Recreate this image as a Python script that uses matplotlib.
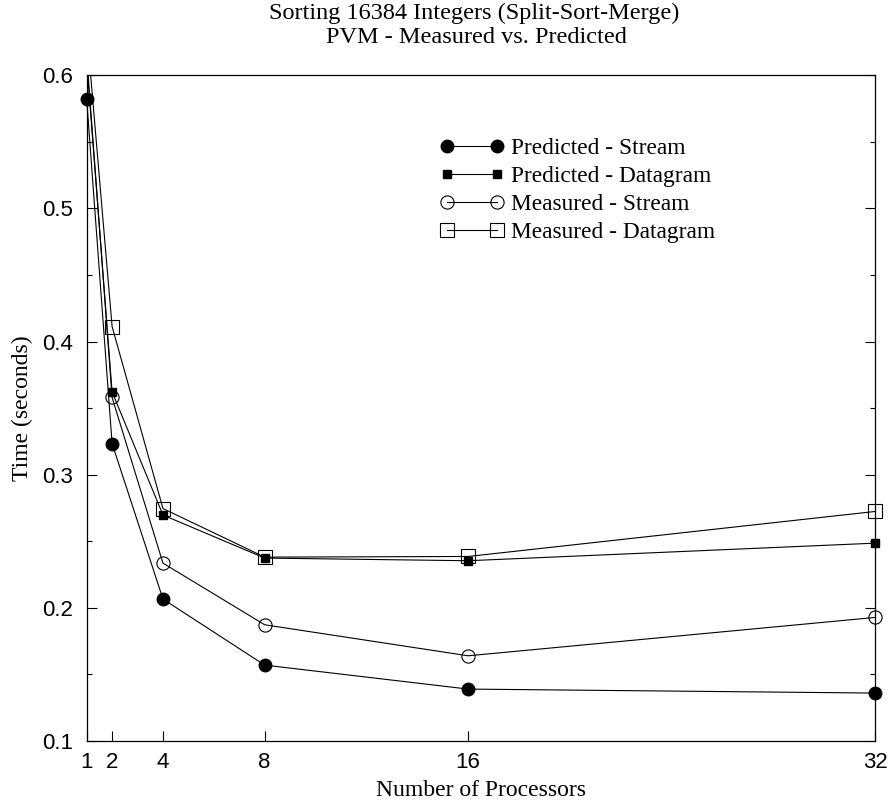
import matplotlib
matplotlib.use("Agg")
import matplotlib.pyplot as plt
from matplotlib.ticker import MultipleLocator
from matplotlib.transforms import Bbox, TransformedBbox

procs = [1, 2, 4, 8, 16, 32]
pred_stream = [0.582, 0.3234, 0.2066, 0.157, 0.139, 0.136]
pred_dgram = [0.61, 0.3622, 0.2697, 0.2374, 0.2354, 0.2486]
meas_stream = [0.615, 0.358, 0.2336, 0.1873, 0.164, 0.1928]
meas_dgram = [0.635, 0.4113, 0.2746, 0.2381, 0.2386, 0.2724]
labels = ["Predicted - Stream", "Predicted - Datagram",
          "Measured - Stream", "Measured - Datagram"]

serif = "Liberation Serif"
sans = "Liberation Sans"

fig = plt.figure(figsize=(8.88, 8.01), dpi=100)
ax = fig.add_axes([0.0976, 0.0749, 0.8878, 0.8311])

lw = 0.8
ax.plot(procs, pred_stream, color="black", lw=lw, marker="o", ms=9,
        mfc="black", mec="black", label=labels[0])
ax.plot(procs, pred_dgram, color="black", lw=lw, marker="s", ms=6,
        mfc="black", mec="black", label=labels[1])
ax.plot(procs, meas_stream, color="black", lw=lw, marker="o", ms=9.5,
        mfc="none", mec="black", mew=0.8, label=labels[2])
ax.plot(procs, meas_dgram, color="black", lw=lw, marker="s", ms=9.5,
        mfc="none", mec="black", mew=0.8, label=labels[3])

# clip only at the top, so edge markers stay whole
clip = TransformedBbox(Bbox([[-0.1, -0.1], [1.1, 1.0]]), ax.transAxes)
for ln in ax.lines:
    ln.set_clip_path(None)
    ln.set_clip_box(clip)

ax.set_xlim(1, 32)
ax.set_ylim(0.1, 0.6)
ax.set_xticks(procs)
ax.set_xticklabels([str(p) for p in procs])
ax.yaxis.set_major_locator(MultipleLocator(0.1))
ax.yaxis.set_minor_locator(MultipleLocator(0.05))
ax.tick_params(axis="y", which="both", direction="in", left=True, right=True)
ax.tick_params(axis="y", which="major", length=7.2, width=0.8, pad=10)
ax.tick_params(axis="y", which="minor", length=3.6, width=0.8)
ax.tick_params(axis="x", which="major", direction="in", length=7.2,
               width=0.8, pad=8, top=False)
for lab in ax.get_xticklabels() + ax.get_yticklabels():
    lab.set_fontfamily(sans)
    lab.set_fontsize(16)
for sp in ax.spines.values():
    sp.set_linewidth(0.9)

ax.set_xlabel("Number of Processors", fontfamily=serif, fontsize=17, labelpad=5)
ax.set_ylabel("Time (seconds)", fontfamily=serif, fontsize=17, labelpad=6)

fig.text(0.534, 0.976, "Sorting 16384 Integers (Split-Sort-Merge)",
         ha="center", va="baseline", fontfamily=serif, fontsize=17.5)
fig.text(0.536, 0.946, "PVM - Measured vs. Predicted",
         ha="center", va="baseline", fontfamily=serif, fontsize=17.5)

ax.legend(loc="upper left", bbox_to_anchor=(0.4486, 0.9059), frameon=False,
          numpoints=2, handlelength=2.75, handletextpad=0.275, borderpad=0,
          borderaxespad=0, labelspacing=0.28,
          prop={"family": serif, "size": 16.8})

fig.savefig("out.png", dpi=100)
